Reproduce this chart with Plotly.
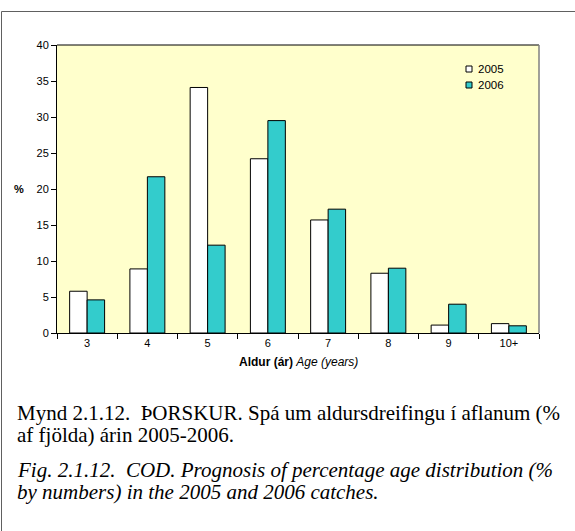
import plotly.graph_objects as go

# Age groups and catch-at-age percentages
ages = ["3", "4", "5", "6", "7", "8", "9", "10+"]
pct_2005 = [5.8, 8.9, 34.1, 24.2, 15.7, 8.3, 1.1, 1.3]
pct_2006 = [4.6, 21.7, 12.2, 29.5, 17.2, 9.0, 4.0, 1.0]
y_ticks = [0, 5, 10, 15, 20, 25, 30, 35, 40]
series_names = ["2005", "2006"]
series_colors = ["white", "#33CCCC"]

W, H = 575, 531
L, R, T, B = 57, 539, 45, 333  # plot area in pixels


def px(x):
    return (x - L) / (R - L)


def py(y):
    return (B - y) / (B - T)


fig = go.Figure()
for name, vals, col in zip(series_names, [pct_2005, pct_2006], series_colors):
    fig.add_trace(go.Bar(x=ages, y=vals, name=name, showlegend=False,
                         marker=dict(color=col, line=dict(color="black", width=1))))

font = "Liberation Sans, Arial, sans-serif"
serif = "Liberation Serif, Times New Roman, serif"

fig.update_layout(
    width=W, height=H,
    margin=dict(l=L, r=W - R, t=T, b=H - B),
    paper_bgcolor="white",
    plot_bgcolor="#FFFFCC",
    barmode="group",
    bargap=0.42,
    bargroupgap=0,
    font=dict(family=font, size=11, color="black"),
    xaxis=dict(type="category", showline=True, linecolor="black", linewidth=1,
               ticks="outside", tickson="boundaries", ticklen=5, tickcolor="black",
               showgrid=False, tickfont=dict(size=11)),
    yaxis=dict(range=[0, 40], tickvals=y_ticks, showline=True, linecolor="black",
               linewidth=1, ticks="outside", ticklen=5, tickcolor="black",
               showgrid=False, zeroline=False, tickfont=dict(size=11)),
)

# plot area border: dark top edge, grey right edge
fig.add_shape(type="line", xref="paper", yref="paper", x0=0, x1=1, y0=1, y1=1,
              line=dict(color="black", width=1))
fig.add_shape(type="line", xref="paper", yref="paper", x0=1, x1=1, y0=0, y1=1,
              line=dict(color="#808080", width=1.5))

# frame lines around chart and caption (top and left)
fig.add_shape(type="line", xref="paper", yref="paper",
              x0=px(1.5), x1=px(576), y0=py(11.5), y1=py(11.5),
              line=dict(color="#606060", width=1))
fig.add_shape(type="line", xref="paper", yref="paper",
              x0=px(1.5), x1=px(1.5), y0=py(11.5), y1=py(532),
              line=dict(color="#606060", width=1))

# legend
for i, (name, col) in enumerate(zip(series_names, series_colors)):
    cy = 69 + 16 * i
    fig.add_shape(type="rect", xref="paper", yref="paper",
                  x0=px(466), x1=px(472), y0=py(cy + 3), y1=py(cy - 3),
                  fillcolor=col, line=dict(color="black", width=1))
    fig.add_annotation(text=name, xref="paper", yref="paper",
                       x=px(476), y=py(cy), xanchor="left", yanchor="middle",
                       showarrow=False, font=dict(size=11.5))

# axis titles
fig.add_annotation(text="<b>%</b>", xref="paper", yref="paper",
                   x=px(26), y=py(189), xanchor="right", yanchor="middle",
                   showarrow=False, font=dict(size=11))
fig.add_annotation(text="<b>Aldur (ár)</b> <i>Age (years)</i>", xref="paper", yref="paper",
                   x=0.5, y=py(362), xanchor="center", yanchor="middle",
                   showarrow=False, font=dict(size=12))

# captions, one line per annotation (text, vertical centre in px)
caption_lines = [
    ("Mynd 2.1.12.\u00a0 ÞORSKUR. Spá um aldursdreifingu í aflanum (%", 413),
    ("af fjölda) árin 2005-2006.", 435),
    ("<i>Fig. 2.1.12.\u00a0 COD. Prognosis of percentage age distribution (%</i>", 470),
    ("<i>by numbers) in the 2005 and 2006 catches.</i>", 492),
]
for text, centre in caption_lines:
    fig.add_annotation(text=text, xref="paper", yref="paper",
                       x=px(16), y=py(centre), xanchor="left", yanchor="middle",
                       align="left", showarrow=False, borderpad=0,
                       font=dict(family=serif, size=21, color="black"))

fig.write_html("out.html")
